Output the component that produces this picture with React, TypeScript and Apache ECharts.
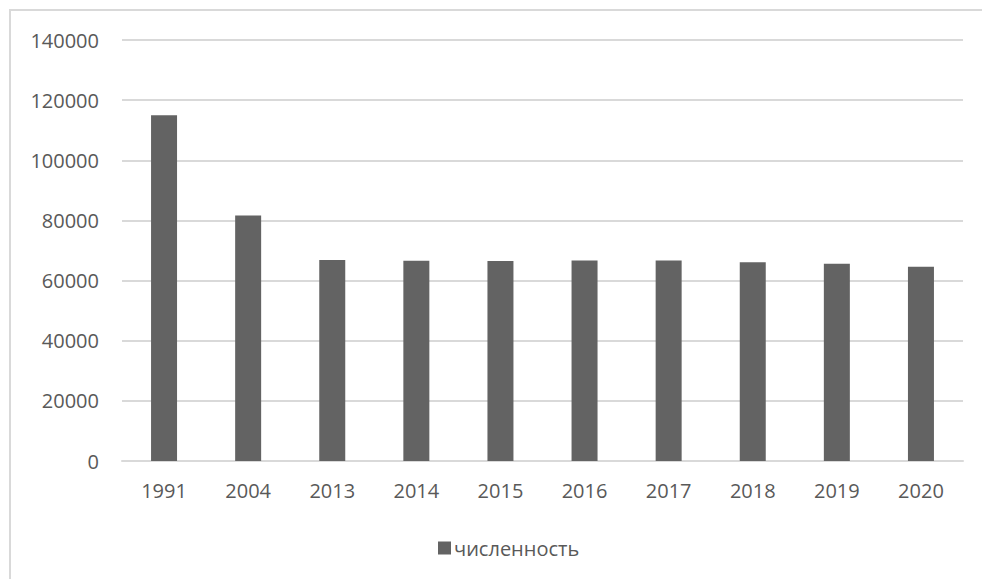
import React, { useEffect, useRef } from "react";
import * as echarts from "echarts";

const years = ["1991", "2004", "2013", "2014", "2015", "2016", "2017", "2018", "2019", "2020"];
const population = [115000, 81600, 66800, 66600, 66500, 66700, 66700, 66100, 65600, 64600];
const seriesName = "численность";

export default function App() {
  const ref = useRef<HTMLDivElement>(null);
  useEffect(() => {
    document.body.style.margin = "0";
    const chart = echarts.init(ref.current!, null, { renderer: "svg" });
    const font = "'Open Sans', 'Noto Sans', sans-serif";
    chart.setOption({
      animation: false,
      backgroundColor: "#ffffff",
      textStyle: { fontFamily: font },
      graphic: [
        {
          type: "line",
          shape: { x1: 10, y1: 10, x2: 10, y2: 579 },
          style: { stroke: "#d9d9d9", lineWidth: 2 },
          silent: true,
        },
        {
          type: "line",
          shape: { x1: 9, y1: 10, x2: 982, y2: 10 },
          style: { stroke: "#d9d9d9", lineWidth: 2 },
          silent: true,
        },
      ],
      grid: { left: 122, right: 19, top: 40, bottom: 118, containLabel: false },
      legend: {
        data: [seriesName],
        left: 433,
        top: 533,
        icon: "rect",
        itemWidth: 13,
        itemHeight: 13,
        textStyle: { color: "#595959", fontSize: 20, fontFamily: font, padding: [0, 0, 0, -2] },
      },
      xAxis: {
        type: "category",
        data: years,
        axisLine: { lineStyle: { color: "#d9d9d9", width: 2 } },
        axisTick: { show: false },
        axisLabel: { color: "#595959", fontSize: 20, margin: 19, fontFamily: font },
      },
      yAxis: {
        type: "value",
        min: 0,
        max: 140000,
        interval: 20000,
        axisLine: { show: false },
        axisTick: { show: false },
        axisLabel: {
          color: "#595959",
          fontSize: 20,
          margin: 23,
          fontFamily: font,
          formatter: (v: number) => String(v),
        },
        splitLine: { lineStyle: { color: "#d9d9d9", width: 2 } },
      },
      series: [
        {
          name: seriesName,
          type: "bar",
          data: population,
          barWidth: 26,
          itemStyle: { color: "#636363" },
        },
      ],
    });
    return () => chart.dispose();
  }, []);
  return <div ref={ref} style={{ width: 982, height: 579 }} />;
}
